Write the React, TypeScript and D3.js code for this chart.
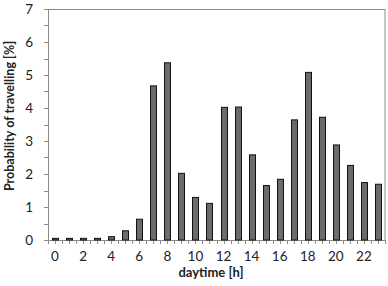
import React, { useEffect, useRef } from 'react';
import * as d3 from 'd3';

// hour of day and share of trips starting in that hour
const hours: number[] = d3.range(0, 24);
const probability: number[] = [
    0.05, 0.05, 0.05, 0.05, 0.1, 0.28, 0.63, 4.67, 5.37, 2.02, 1.29, 1.11,
    4.02, 4.03, 2.58, 1.65, 1.84, 3.64, 5.08, 3.72, 2.88, 2.26, 1.74, 1.69,
];
const yTicks: number[] = [0, 1, 2, 3, 4, 5, 6, 7];
const xTickLabels: number[] = [0, 2, 4, 6, 8, 10, 12, 14, 16, 18, 20, 22];

const App: React.FC = () => {
    const ref = useRef<SVGSVGElement>(null);

    useEffect(() => {
        if (!ref.current) return;
        const svg = d3.select(ref.current);
        svg.selectAll("*").remove();

        const margin = { top: 9, right: 3, bottom: 46, left: 48 };
        const W = 388, H = 286;
        const width = W - margin.left - margin.right;
        const height = H - margin.top - margin.bottom;
        const font = "Lato, 'Open Sans', sans-serif";
        const axisColor = "#8c8c8c";

        const g = svg.append("g")
            .attr("transform", `translate(${margin.left},${margin.top})`);

        const x = d3.scaleBand<number>()
            .domain(hours)
            .range([0, width])
            .paddingInner(0)
            .paddingOuter(0);

        const y = d3.scaleLinear()
            .domain([0, 7])
            .range([height, 0]);

        // plot frame
        g.append("rect")
            .attr("x", 0.5)
            .attr("y", 0.5)
            .attr("width", width - 0.5)
            .attr("height", height)
            .attr("fill", "none")
            .attr("stroke", axisColor)
            .attr("stroke-width", 1);

        // y ticks (major + half-unit minor)
        const yMinor = d3.range(0, 7.01, 0.5);
        g.append("g")
            .selectAll("line")
            .data(yMinor)
            .enter()
            .append("line")
            .attr("x1", -4)
            .attr("x2", 0)
            .attr("y1", d => Math.round(y(d)) + 0.5)
            .attr("y2", d => Math.round(y(d)) + 0.5)
            .attr("stroke", axisColor);

        g.append("g")
            .selectAll("text")
            .data(yTicks)
            .enter()
            .append("text")
            .attr("x", -15)
            .attr("y", d => y(d))
            .attr("dy", "0.36em")
            .attr("text-anchor", "end")
            .style("font-family", font)
            .style("font-size", "13.5px")
            .attr("fill", "#222")
            .text(d => d);

        // x ticks at band edges and centres
        const half = x.bandwidth() / 2;
        const xMinor = d3.range(0, 49).map(i => i * half);
        g.append("g")
            .selectAll("line")
            .data(xMinor)
            .enter()
            .append("line")
            .attr("x1", d => Math.round(d) + 0.5)
            .attr("x2", d => Math.round(d) + 0.5)
            .attr("y1", height)
            .attr("y2", height + 4)
            .attr("stroke", axisColor);

        g.append("g")
            .selectAll("text")
            .data(xTickLabels)
            .enter()
            .append("text")
            .attr("x", d => (x(d) || 0) + half)
            .attr("y", height + 21)
            .attr("text-anchor", "middle")
            .style("font-family", font)
            .style("font-size", "13.5px")
            .attr("fill", "#222")
            .text(d => d);

        // bars
        const barW = 6;
        g.append("g")
            .selectAll("rect")
            .data(probability)
            .enter()
            .append("rect")
            .attr("x", (d, i) => Math.round((x(hours[i]) || 0) + half - barW / 2) + 0.5)
            .attr("y", d => y(d))
            .attr("width", barW)
            .attr("height", d => height - y(d))
            .attr("fill", "#6b6b6b")
            .attr("stroke", "#111")
            .attr("stroke-width", 1);

        // axis titles
        svg.append("text")
            .attr("x", 211)
            .attr("y", 277)
            .attr("text-anchor", "middle")
            .style("font-family", font)
            .style("font-size", "13px")
            .style("font-weight", "bold")
            .attr("fill", "#222")
            .text("daytime [h]");

        svg.append("text")
            .attr("transform", `translate(13.5,116) rotate(-90)`)
            .attr("text-anchor", "middle")
            .style("font-family", font)
            .style("font-size", "12.5px")
            .style("font-weight", "bold")
            .attr("fill", "#222")
            .text("Probability of travelling [%]");
    }, []);

    return (
        <div style={{ position: "absolute", left: 0, top: 0 }}>
            <svg ref={ref} width={388} height={286} style={{ display: "block", background: "#fff" }} />
        </div>
    );
};

export default App;
